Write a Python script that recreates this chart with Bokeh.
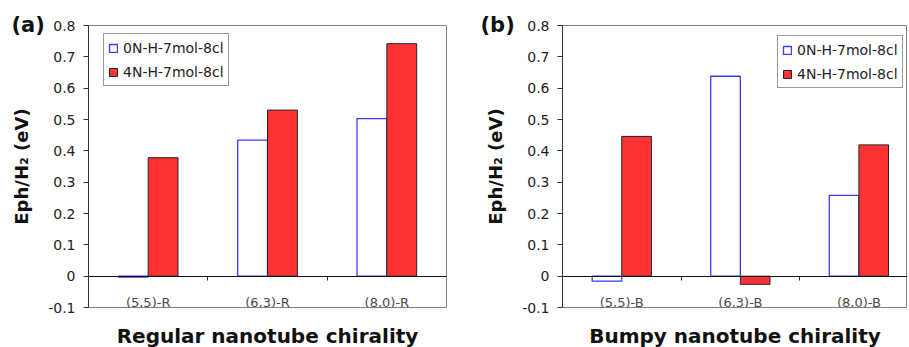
from bokeh.plotting import figure
from bokeh.layouts import row
from bokeh.models import (Range1d, FixedTicker, NumeralTickFormatter, Title,
                          ColumnDataSource)
from bokeh.transform import dodge
from bokeh.embed import file_html
from bokeh.resources import INLINE

# ---- data ----
cats_a = ["(5,5)-R", "(6,3)-R", "(8,0)-R"]
cats_b = ["(5,5)-B", "(6,3)-B", "(8,0)-B"]
series_names = ["0N-H-7mol-8cl", "4N-H-7mol-8cl"]
n0_a = [-0.003, 0.434, 0.503]
n4_a = [0.378, 0.530, 0.742]
n0_b = [-0.016, 0.638, 0.258]
n4_b = [0.446, -0.026, 0.419]
yticks = [-0.1, 0, 0.1, 0.2, 0.3, 0.4, 0.5, 0.6, 0.7, 0.8]
ylabel = "Eph/H\u2082 (eV)"
xlabel_a = "Regular nanotube chirality"
xlabel_b = "Bumpy nanotube chirality"

FONT = "DejaVu Sans"
H = 347


def make(cats, v0, v4, panel, xlabel, width, bl, br, bt, x_end, leg_loc, lab_off):
    centers = [i + 0.5 for i in range(len(cats))]
    bounds = [i for i in range(1, len(cats))]
    p = figure(width=width, height=H, x_range=Range1d(0, x_end),
               y_range=Range1d(-0.1, 0.8), output_backend="svg",
               toolbar_location=None, min_border_left=bl, min_border_right=br,
               min_border_top=bt, min_border_bottom=H - 308)
    p.grid.visible = False
    p.outline_line_color = "#808080"
    p.background_fill_color = "white"
    p.border_fill_color = "white"

    s = ColumnDataSource(dict(x=centers, v0=v0, v4=v4))
    p.vbar(x=dodge("x", -0.125, range=p.x_range), top="v0", bottom=0, width=0.25,
           source=s, fill_color="white", line_color="#3a3aff", line_width=1.3,
           legend_label=series_names[0])
    p.vbar(x=dodge("x", 0.125, range=p.x_range), top="v4", bottom=0, width=0.25,
           source=s, fill_color="#ff3333", line_color="#222222", line_width=1,
           legend_label=series_names[1])

    xa = p.xaxis[0]
    xa.ticker = FixedTicker(ticks=centers, minor_ticks=bounds)
    xa.major_label_overrides = {c: t for c, t in zip(centers, cats)}
    xa.fixed_location = 0
    xa.major_tick_line_color = None
    xa.minor_tick_out = 4
    xa.minor_tick_in = 0
    xa.minor_tick_line_color = "#222222"
    xa.axis_line_color = "#111111"
    xa.major_label_standoff = 13
    xa.major_label_text_font = FONT
    xa.major_label_text_font_size = "13px"
    xa.major_label_text_color = "#4a4a4a"

    ya = p.yaxis[0]
    ya.ticker = FixedTicker(ticks=yticks)
    ya.formatter = NumeralTickFormatter(format="0.[0]")
    ya.minor_tick_line_color = None
    ya.major_tick_out = 5
    ya.major_tick_in = 0
    ya.axis_line_color = "#333333"
    ya.major_tick_line_color = "#333333"
    ya.major_label_standoff = 8
    ya.major_label_text_font = FONT
    ya.major_label_text_font_size = "14px"
    ya.major_label_text_color = "#222222"
    ya.axis_label = ylabel
    ya.axis_label_text_font = FONT
    ya.axis_label_text_font_size = "18px"
    ya.axis_label_text_font_style = "bold"
    ya.axis_label_text_color = "#111111"
    ya.axis_label_standoff = 13

    # spacer between frame and x title
    p.add_layout(Title(text=" ", text_font_size="1px", standoff=11), "below")
    p.add_layout(Title(text=xlabel, align="center", text_font=FONT,
                       text_font_size="20px", text_font_style="bold",
                       text_color="#111111", standoff=0), "below")

    # panel letter
    p.add_layout(Title(text=panel, align="left", offset=lab_off, text_font=FONT,
                       text_font_size="21px", text_font_style="bold",
                       text_color="#111111", standoff=-22), "above")

    lg = p.legend[0]
    lg.location = leg_loc
    lg.border_line_color = "#333333"
    lg.border_line_width = 1
    lg.label_text_font = FONT
    lg.label_text_font_size = "14px"
    lg.label_text_color = "#222222"
    lg.glyph_width = 10
    lg.glyph_height = 10
    lg.label_height = 19
    lg.spacing = 5
    lg.padding = 4
    lg.margin = 0
    lg.label_standoff = 5
    lg.background_fill_alpha = 1
    return p


pa = make(cats_a, n0_a, n4_a, "(a)", xlabel_a, 462, 88, 16, 23, 3, (15, 221), -77)
pb = make(cats_b, n0_b, n4_b, "(b)", xlabel_b, 445, 100, 0, 25, 2.91, (215, 219), -82)

layout = row(pa, pb)
open("out.html", "w").write(file_html(layout, INLINE))
